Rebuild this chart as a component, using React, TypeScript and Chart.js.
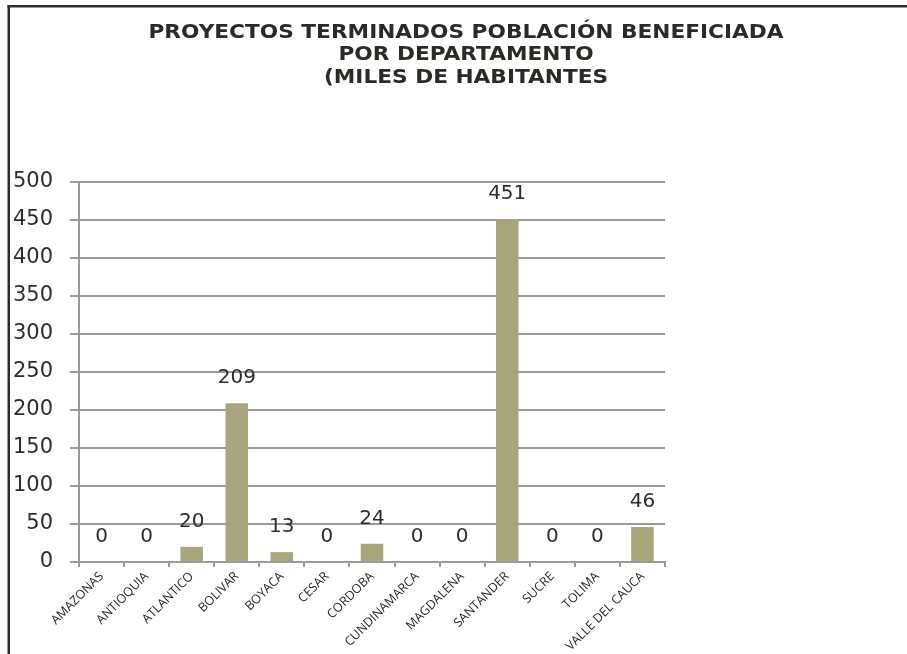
import React, { useEffect, useRef } from "react";
import { Chart, registerables } from "chart.js";

Chart.register(...registerables);

const categories = [
  "AMAZONAS",
  "ANTIOQUIA",
  "ATLANTICO",
  "BOLIVAR",
  "BOYACA",
  "CESAR",
  "CORDOBA",
  "CUNDINAMARCA",
  "MAGDALENA",
  "SANTANDER",
  "SUCRE",
  "TOLIMA",
  "VALLE DEL CAUCA",
];
const poblacion = [0, 0, 20, 209, 13, 0, 24, 0, 0, 451, 0, 0, 46];
const titleLines = [
  "PROYECTOS TERMINADOS POBLACIÓN BENEFICIADA",
  "POR DEPARTAMENTO",
  "(MILES DE HABITANTES",
];
const yMin = 0;
const yMax = 500;
const yStep = 50;

const framePlugin = {
  id: "frame",
  beforeDraw(chart: any) {
    const ctx = chart.ctx;
    ctx.save();
    ctx.fillStyle = "#ffffff";
    ctx.fillRect(0, 0, chart.width, chart.height);
    ctx.fillStyle = "#2e2c24";
    ctx.fillRect(7.5, 5, 2.5, chart.height);
    ctx.fillRect(7.5, 5, chart.width, 2.5);
    ctx.restore();
  },
};

const titlePlugin = {
  id: "stretchedTitle",
  afterDraw(chart: any) {
    const ctx = chart.ctx;
    ctx.save();
    ctx.font = "bold 19px 'DejaVu Sans'";
    ctx.fillStyle = "#2b2a25";
    ctx.textAlign = "center";
    ctx.textBaseline = "middle";
    const cx = 466;
    const ys = [33, 55.5, 78];
    titleLines.forEach((line, i) => {
      ctx.save();
      ctx.translate(cx, ys[i]);
      ctx.scale(1.14, 1);
      ctx.fillText(line, 0, 0);
      ctx.restore();
    });
    ctx.restore();
  },
};

const valueLabelPlugin = {
  id: "valueLabels",
  afterDatasetsDraw(chart: any) {
    const ctx = chart.ctx;
    const meta = chart.getDatasetMeta(0);
    ctx.save();
    ctx.font = "20px 'DejaVu Sans'";
    ctx.fillStyle = "#2f2d27";
    ctx.textAlign = "center";
    ctx.textBaseline = "middle";
    meta.data.forEach((bar: any, i: number) => {
      const v = chart.data.datasets[0].data[i];
      ctx.fillText(String(v), bar.x, bar.y - 25);
    });
    ctx.restore();
  },
};

export default function App() {
  const ref = useRef<HTMLCanvasElement | null>(null);

  useEffect(() => {
    if (!ref.current) return;
    const chart = new Chart(ref.current, {
      type: "bar",
      data: {
        labels: categories,
        datasets: [
          {
            label: "Población beneficiada",
            data: poblacion,
            backgroundColor: "#a9a67c",
            borderWidth: 0,
            barPercentage: 0.5,
            categoryPercentage: 1,
          },
        ],
      },
      options: {
        responsive: true,
        maintainAspectRatio: false,
        animation: false,
        layout: { padding: { left: 8, top: 182, right: 242, bottom: 0 } },
        plugins: {
          legend: { display: false },
          title: { display: false },
          tooltip: { enabled: false },
        },
        scales: {
          x: {
            grid: {
              display: true,
              drawOnChartArea: false,
              drawTicks: true,
              tickLength: 5,
              offset: true,
              color: "#9a9a9a",
              lineWidth: 2,
            },
            border: { display: true, color: "#9a9a9a", width: 2 },
            ticks: {
              autoSkip: false,
              maxRotation: 45,
              minRotation: 45,
              padding: 2,
              color: "#2b2922",
              font: { family: "'Open Sans'", size: 12.5 },
            },
            afterFit(scale: any) {
              scale.height = 92;
            },
          },
          y: {
            min: yMin,
            max: yMax,
            grid: {
              color: "#9a9a9a",
              lineWidth: 2,
              tickLength: 9,
            },
            border: { display: true, color: "#9a9a9a", width: 2 },
            ticks: {
              stepSize: yStep,
              padding: 17,
              color: "#2f2d27",
              font: { family: "'DejaVu Sans'", size: 21 },
            },
            afterFit(scale: any) {
              scale.width = 71;
            },
          },
        },
      },
      plugins: [framePlugin, valueLabelPlugin, titlePlugin],
    });
    return () => chart.destroy();
  }, []);

  return (
    <div
      style={{
        position: "fixed",
        left: 0,
        top: 0,
        width: 907,
        height: 654,
        background: "#fff",
      }}
    >
      <canvas ref={ref} />
    </div>
  );
}
